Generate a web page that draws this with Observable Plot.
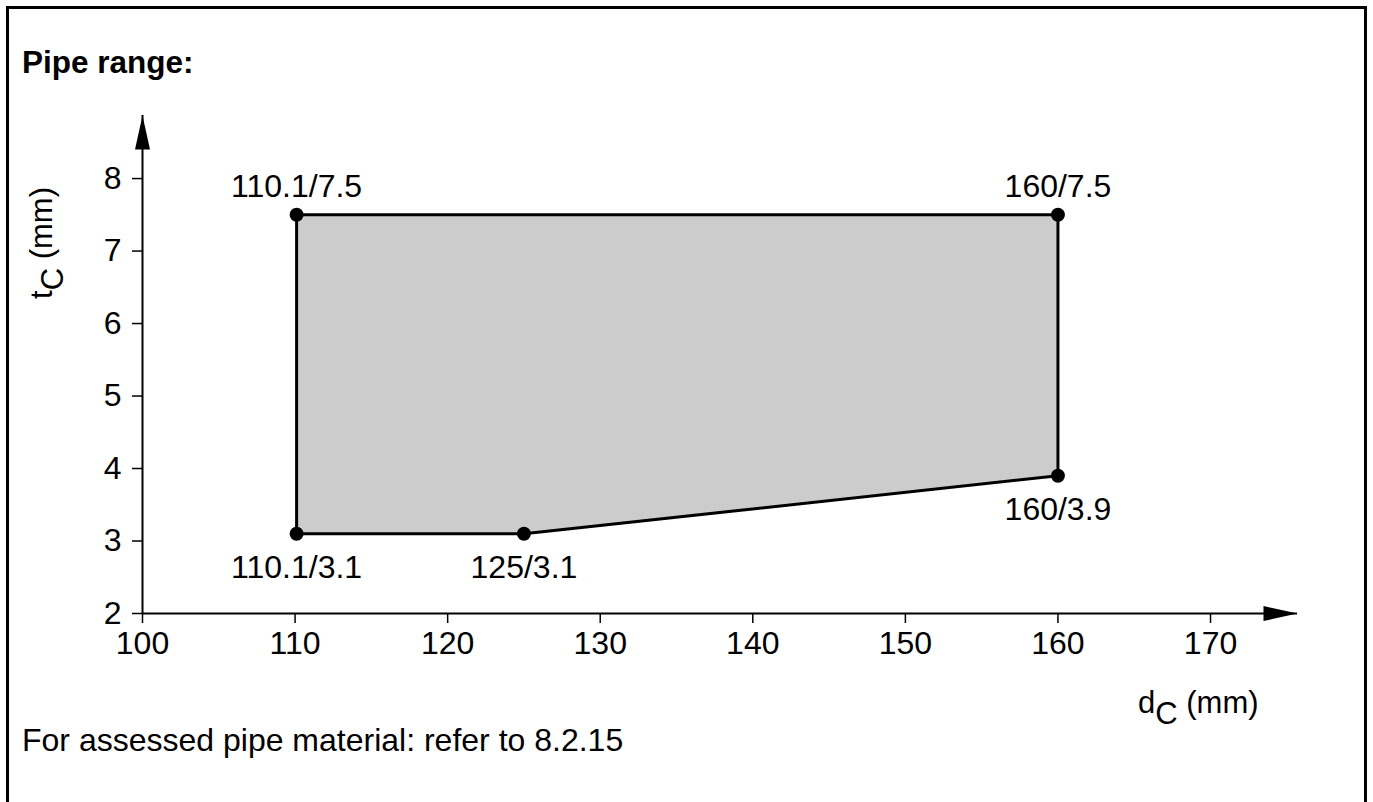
<!DOCTYPE html>
<html><head><meta charset="utf-8">
<script src="https://cdn.jsdelivr.net/npm/d3@7"></script>
<script src="https://cdn.jsdelivr.net/npm/@observablehq/plot@0.6"></script>
<style>
html,body{margin:0;padding:0;background:#fff;}
body{width:1373px;height:802px;position:relative;overflow:hidden;font-family:"Liberation Sans",Arial,sans-serif;color:#000;}
#frame{position:absolute;left:6px;top:6px;width:1355px;height:900px;border:3px solid #000;}
#title{position:absolute;left:22px;top:46px;font-size:31.5px;line-height:32px;font-weight:bold;white-space:nowrap;}
#chart{position:absolute;left:0;top:100px;}
#note{position:absolute;left:22px;top:724px;font-size:32px;line-height:32px;white-space:nowrap;}
</style></head><body>
<div id="frame"></div>
<div id="title">Pipe range:</div>
<div id="chart"></div>
<div id="note">For assessed pipe material: refer to 8.2.15</div>
<script>
// ---- data ----
const xTicks = [100, 110, 120, 130, 140, 150, 160, 170];
const yTicks = [2, 3, 4, 5, 6, 7, 8];
const cornerD = [110.1, 125, 160, 160, 110.1];      // d_C (mm)
const cornerT = [3.1, 3.1, 3.9, 7.5, 7.5];          // t_C (mm)
const cornerLabels = ["110.1/3.1", "125/3.1", "160/3.9", "160/7.5", "110.1/7.5"];
const cornerSide = ["below", "below", "below", "above", "above"];
const xAxisEnd = 175.7;   // arrow tip of d_C axis
const yAxisEnd = 8.87;    // arrow tip of t_C axis
const xOrigin = 100, yOrigin = 2;

// ---- derived tables ----
const corners = cornerD.map((d, i) => ({d, t: cornerT[i], label: cornerLabels[i], side: cornerSide[i]}));
const ring = [...corners, corners[0]];

const arrowHead = {
  draw(ctx) { ctx.moveTo(0, 0); ctx.lineTo(-34, -7.5); ctx.lineTo(-34, 7.5); ctx.closePath(); }
};

const FS = 32;

const plot = Plot.plot({
  width: 1373,
  height: 580,
  marginLeft: 142,
  marginRight: 76,
  marginTop: 15,
  marginBottom: 67,
  x: {domain: [xOrigin, xAxisEnd]},
  y: {domain: [yOrigin, yAxisEnd]},
  style: {fontFamily: "'Liberation Sans', Arial, sans-serif", fontSize: FS + "px", color: "#000", background: "transparent", overflow: "visible"},
  marks: [
    Plot.line(ring, {x: "d", y: "t", fill: "#cccccc", stroke: "#000", strokeWidth: 3, strokeLinejoin: "miter"}),
    Plot.ruleY([yOrigin], {x1: xOrigin, x2: xAxisEnd, stroke: "#000", strokeWidth: 2}),
    Plot.ruleX([xOrigin], {y1: yOrigin, y2: yAxisEnd, stroke: "#000", strokeWidth: 2}),
    Plot.dot([{x: xAxisEnd, y: yOrigin}], {x: "x", y: "y", symbol: arrowHead, fill: "#000", stroke: "none", r: 10}),
    Plot.dot([{x: xOrigin, y: yAxisEnd}], {x: "x", y: "y", symbol: arrowHead, fill: "#000", stroke: "none", r: 10, rotate: -90}),
    Plot.axisX(xTicks, {tickSize: 10, tickPadding: 8, strokeWidth: 1.5, tickFormat: d => String(d), label: null, fontSize: FS}),
    Plot.axisY(yTicks, {tickSize: 10, tickPadding: 11, strokeWidth: 1.5, tickFormat: d => String(d), label: null, fontSize: FS}),
    Plot.dot(corners, {x: "d", y: "t", r: 7, fill: "#000", stroke: "none"}),
    Plot.text(corners.filter(c => c.side === "above"), {x: "d", y: "t", text: "label", lineAnchor: "bottom", dy: -18, fontSize: FS, fill: "#000"}),
    Plot.text(corners.filter(c => c.side === "below"), {x: "d", y: "t", text: "label", lineAnchor: "bottom", dy: 44, fontSize: FS, fill: "#000"})
  ]
});

const svg = d3.select(plot);
// x axis title: d_C (mm)
const xt = svg.append("text").attr("x", 1138).attr("y", 613).attr("text-anchor", "start").attr("font-size", 31).attr("fill", "#000");
xt.append("tspan").text("d");
xt.append("tspan").attr("dy", 11).text("C");
xt.append("tspan").attr("dy", -11).text(" (mm)");
// y axis title: t_C (mm)
const yt = svg.append("text").attr("transform", "translate(52,143) rotate(-90)").attr("text-anchor", "middle").attr("font-size", 31).attr("fill", "#000");
yt.append("tspan").text("t");
yt.append("tspan").attr("dy", 11).text("C");
yt.append("tspan").attr("dy", -11).text(" (mm)");

document.getElementById("chart").appendChild(plot);
</script>
</body></html>
